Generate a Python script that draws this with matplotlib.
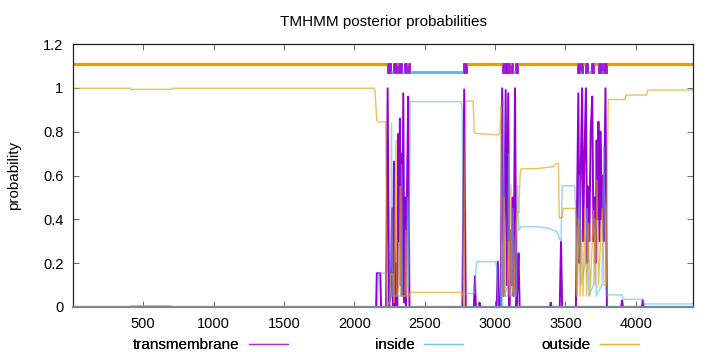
import matplotlib
matplotlib.use("Agg")
from matplotlib import pyplot as plt
from matplotlib.lines import Line2D

plt.rcParams["font.family"] = ["Liberation Sans", "DejaVu Sans"]
plt.rcParams["font.size"] = 10

# posterior probability traces (residue, probability)
tm_pos = [0, 2155, 2160, 2185, 2190, 2226, 2237, 2247, 2258, 2268, 2275, 2282, 2290,
          2300, 2305, 2313, 2318, 2324, 2330, 2336, 2341, 2348, 2356, 2362, 2368,
          2376, 2383, 2392, 2768, 2781, 2792, 2850, 2857, 2864, 2885, 2890, 2898,
          3012, 3020, 3028, 3040, 3051, 3060, 3066, 3076, 3084, 3094, 3102, 3110,
          3118, 3125, 3132, 3142, 3152, 3160, 3167, 3175, 3390, 3396, 3402, 3460,
          3469, 3477, 3575, 3592, 3600, 3606, 3619, 3627, 3633, 3646, 3655, 3662,
          3670, 3680, 3691, 3700, 3708, 3715, 3722, 3728, 3735, 3742, 3751, 3758,
          3765, 3772, 3785, 3795, 3897, 3903, 3909, 4044, 4050, 4056, 4407]
tm_prob = [0, 0, 0.154, 0.154, 0, 0, 0.998, 0, 0.05, 0.45, 0, 0.663, 0,
           0.2, 0, 0.79, 0.3, 0.86, 0.1, 0.7, 0.05, 0.975, 0.02, 0.5, 0,
           0.6, 0.96, 0, 0, 0.993, 0, 0, 0.14, 0, 0, 0.02, 0,
           0, 0.207, 0, 0, 0.998, 0.05, 0.4, 0.99, 0.1, 0.975, 0, 0.35,
           0.1, 0.5, 0.05, 0.998, 0, 0.1, 0.245, 0, 0, 0.02, 0, 0,
           0.298, 0, 0, 0.975, 0.2, 0.5, 0.998, 0.3, 0.6, 0.998, 0.2, 0.55,
           0.3, 0.8, 0.96, 0.3, 0.5, 0.2, 0.76, 0.4, 0.845, 0.3, 0.8, 0.4,
           0.6, 0.3, 0.998, 0, 0, 0.03, 0, 0, 0.03, 0, 0]

in_pos = [0, 405, 412, 700, 707, 2165, 2172, 2228, 2234, 2258, 2265, 2272, 2330,
          2336, 2342, 2372, 2378, 2386, 2398, 2760, 2767, 2775, 2855, 2868, 2874,
          3005, 3012, 3020, 3040, 3046, 3054, 3060, 3068, 3090, 3098, 3105, 3120,
          3128, 3135, 3152, 3161, 3170, 3184, 3300, 3380, 3410, 3440, 3460, 3469,
          3478, 3566, 3575, 3585, 3600, 3610, 3640, 3655, 3665, 3700, 3710, 3720,
          3760, 3773, 3790, 3800, 3903, 3910, 4054, 4060, 4407]
in_prob = [0, 0, 0.006, 0.006, 0, 0, 0.154, 0.154, 0.02, 0.02, 0.84, 0.05, 0.05,
           0.65, 0.05, 0.05, 0.5, 0.1, 0.937, 0.937, 0.9, 0.062, 0.062, 0.2, 0.207,
           0.207, 0.18, 0, 0, 0.3, 0, 0.95, 0.05, 0.1, 0.7, 0.05, 0.05,
           0.45, 0.05, 0.05, 0.556, 0.35, 0.366, 0.366, 0.36, 0.35, 0.345, 0.31, 0.3,
           0.553, 0.553, 0.4, 0.05, 0.6, 0.1, 0.2, 0.45, 0.05, 0.1, 0.4, 0.05,
           0.1, 0.73, 0.05, 0.055, 0.055, 0.035, 0.035, 0.014, 0.014]

out_pos = [0, 405, 410, 700, 706, 2140, 2147, 2160, 2170, 2222, 2228, 2234, 2250,
           2258, 2277, 2282, 2296, 2302, 2320, 2326, 2332, 2360, 2366, 2372, 2390,
           2398, 2770, 2778, 2786, 2793, 2845, 2852, 2860, 3025, 3035, 3042, 3047,
           3060, 3066, 3072, 3090, 3098, 3106, 3113, 3120, 3135, 3145, 3155, 3170,
           3178, 3184, 3300, 3414, 3438, 3450, 3457, 3478, 3485, 3573, 3580, 3595,
           3605, 3615, 3625, 3640, 3650, 3665, 3675, 3700, 3712, 3725, 3735, 3750,
           3762, 3775, 3790, 3797, 3805, 3924, 3930, 4078, 4084, 4407]
out_prob = [0.998, 0.998, 0.993, 0.993, 0.998, 0.998, 0.99, 0.85, 0.845, 0.845, 0.5, 0, 0.02,
            0.15, 0.15, 0.02, 0.76, 0.05, 0.1, 0.55, 0.05, 0.05, 0.35, 0.05, 0.05,
            0.067, 0.067, 0, 0.6, 0.94, 0.94, 0.8, 0.792, 0.785, 0.8, 0.92, 0.05,
            0.05, 0.5, 0.05, 0.05, 0.3, 0.05, 0.56, 0.1, 0.05, 0.3, 0.43, 0.43,
            0.6, 0.63, 0.632, 0.64, 0.655, 0.655, 0.405, 0.41, 0.45, 0.45, 0.05, 0.4,
            0.05, 0.35, 0.05, 0.45, 0.05, 0.38, 0.05, 0.44, 0.1, 0.58, 0.1, 0.3,
            0.45, 0.1, 0.1, 0.6, 0.947, 0.947, 0.967, 0.967, 0.99, 0.99]

# predicted topology drawn above the curves
top_start = [0, 2230, 2258, 2275, 2305, 2312, 2341, 2355, 2374, 2380, 2398, 2774, 2798,
             3047, 3076, 3080, 3106, 3113, 3130, 3142, 3165, 3580, 3604, 3609, 3627,
             3639, 3663, 3680, 3705, 3732, 3758, 3769, 3798]
top_end = [2230, 2258, 2275, 2305, 2312, 2341, 2355, 2374, 2380, 2398, 2774, 2798, 3047,
           3076, 3080, 3106, 3113, 3130, 3142, 3165, 3580, 3604, 3609, 3627, 3639,
           3663, 3680, 3705, 3732, 3758, 3769, 3798, 4407]
top_kind = ["o", "M", "i", "M", "o", "M", "i", "M", "o", "M", "i", "M", "o",
            "M", "i", "M", "o", "M", "i", "M", "o", "M", "i", "M", "o",
            "M", "i", "M", "o", "M", "i", "M", "o"]

x_ticks = [500, 1000, 1500, 2000, 2500, 3000, 3500, 4000]
y_ticks = [0, 0.2, 0.4, 0.6, 0.8, 1.0, 1.2]
y_ticklabels = ["0", "0.2", "0.4", "0.6", "0.8", "1", "1.2"]

c_tm = "#9400D3"
c_in = "#56B4E9"
c_out = "#E69F00"

fig = plt.figure(figsize=(7.2, 3.52), dpi=100)
ax = fig.add_axes([73 / 720, 1 - 307 / 352, 620 / 720, 263 / 352])

ax.plot(tm_pos, tm_prob, color=c_tm, lw=1.4)
ax.plot(in_pos, in_prob, color=c_in, lw=1.0, alpha=0.6)
ax.plot(out_pos, out_prob, color=c_out, lw=1.0, alpha=0.65)

for s, e, k in zip(top_start, top_end, top_kind):
    if k == "o":
        ax.hlines(1.109, s, e, color=c_out, lw=2.3)
    elif k == "i":
        ax.hlines(1.07, s, e, color=c_in, lw=2.0)
    else:
        ax.bar(s, 0.048, width=e - s, bottom=1.066, align="edge",
               color=c_tm, edgecolor=c_tm, lw=0.6, alpha=0.9)

ax.set_xlim(1, 4407)
ax.set_ylim(0, 1.2)
ax.set_xticks(x_ticks)
ax.set_yticks(y_ticks)
ax.set_yticklabels(y_ticklabels)
ax.tick_params(direction="in", length=4, width=0.6, top=True, right=True,
               color="#555555", labelsize=10.5)
ax.tick_params(axis="y", pad=7)
ax.tick_params(axis="x", pad=7)
for sp in ax.spines.values():
    sp.set_linewidth(0.9)
    sp.set_color("#222222")
# the zero lines of all traces pile up on the bottom border
ax.spines["bottom"].set_color("#7a8896")
ax.spines["bottom"].set_linewidth(1.6)

ax.set_ylabel("probability", fontsize=11)
ax.yaxis.set_label_coords(-0.083, 0.5)
ax.set_title("TMHMM posterior probabilities", fontsize=11, pad=13)

# gnuplot style key: right-justified text with sample after it
entries = [("transmembrane", c_tm, 288), ("inside", c_in, 463), ("outside", c_out, 639)]
for lab, col, xr in entries:
    h = Line2D([], [], color=col, lw=1.0, alpha=0.55)
    leg = fig.legend([h], [lab], loc="center right", bbox_to_anchor=(xr / 720, 1 - 345 / 352),
                     frameon=False, markerfirst=False, borderpad=0, borderaxespad=0,
                     handlelength=2.55, handletextpad=0.6, fontsize=11)
    fig.add_artist(leg)

fig.savefig("out.png", dpi=100)
